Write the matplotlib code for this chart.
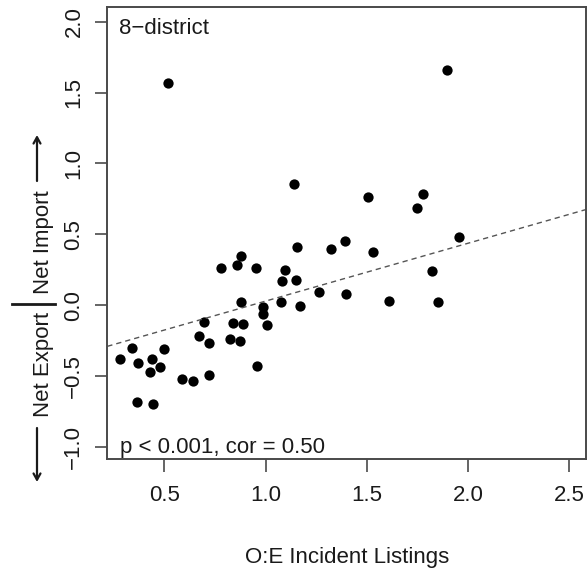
import matplotlib
matplotlib.use("Agg")
import matplotlib.pyplot as plt

# ---- data ----
oe_listings = [0.281, 0.339, 0.372, 0.441, 0.429, 0.480, 0.499, 0.367, 0.444, 0.587,
               0.643, 0.721, 0.673, 0.719, 0.698, 0.778, 0.861, 0.880, 0.954, 0.880,
               0.841, 0.890, 0.826, 0.872, 0.959, 0.989, 0.987, 1.006, 1.075, 1.080,
               1.096, 1.149, 1.154, 1.170, 1.262, 1.322, 1.392, 1.397, 0.517, 1.140,
               1.894, 1.507, 1.778, 1.746, 1.955, 1.529, 1.610, 1.822, 1.853]
net_flow = [-0.380, -0.303, -0.404, -0.380, -0.469, -0.434, -0.310, -0.681, -0.697, -0.519,
            -0.533, -0.491, -0.213, -0.265, -0.119, 0.266, 0.285, 0.348, 0.261, 0.026,
            -0.124, -0.133, -0.239, -0.251, -0.425, -0.014, -0.061, -0.141, 0.024, 0.172,
            0.250, 0.179, 0.412, -0.004, 0.094, 0.398, 0.457, 0.083, 1.566, 0.858,
            1.659, 0.766, 0.785, 0.687, 0.484, 0.379, 0.031, 0.243, 0.024]
fit_intercept = -0.378
fit_slope = 0.408
x_ticks = [0.5, 1.0, 1.5, 2.0, 2.5]
y_ticks = [-1.0, -0.5, 0.0, 0.5, 1.0, 1.5, 2.0]
panel_label = "8\u2212district"
stat_label = "p < 0.001, cor = 0.50"
x_label = "O:E Incident Listings"

# ---- figure ----
W, H = 587, 576
plt.rcParams['font.family'] = ['Liberation Sans', 'DejaVu Sans']
fig = plt.figure(figsize=(W / 100, H / 100), dpi=100)

def fx(px):
    return px / W

def fy(py):
    return 1 - py / H

left, right, top, bottom = 107.3, 586.0, 7.3, 459.0
ax = fig.add_axes([fx(left), fy(bottom), fx(right) - fx(left), fy(top) - fy(bottom)])

spine_col = '#4a4a4a'
text_col = '#1a1a1a'
fs = 16

ax.plot(oe_listings, net_flow, 'o', color='black', markersize=7.4, markeredgewidth=0)
ax.axline((0, fit_intercept), slope=fit_slope, color='#555555', lw=1.0,
          dashes=(3.8, 2.9))

ax.set_xlim(0.2185, 2.582)
ax.set_ylim(-1.083, 2.101)
ax.set_xticks(x_ticks)
ax.set_yticks(y_ticks)
ax.set_xticklabels([f"{v:.1f}" for v in x_ticks])
ax.set_yticklabels([f"{v:.1f}".replace('-', '\u2212') for v in y_ticks])

for s in ax.spines.values():
    s.set_color(spine_col)
    s.set_linewidth(1.4)

ax.tick_params(axis='both', direction='out', length=9, width=1.2, color=spine_col,
               labelsize=fs, labelcolor=text_col)
ax.tick_params(axis='x', pad=10)
ax.tick_params(axis='y', pad=7.5)
for lab in ax.get_yticklabels():
    lab.set_rotation(90)
    lab.set_va('center')

# texts inside panel
fig.text(fx(119), fy(34), panel_label, fontsize=fs, color=text_col, ha='left', va='baseline')
fig.text(fx(120), fy(453), stat_label, fontsize=fs, color=text_col, ha='left', va='baseline')

# x label
fig.text(fx((left + right) / 2), fy(563), x_label, fontsize=fs, color=text_col,
         ha='center', va='baseline')

# y label pieces
fig.text(fx(44), fy(242), "Net Import", fontsize=fs, color=text_col, rotation=90,
         ha='center', va='center')
fig.text(fx(44), fy(364), "Net Export", fontsize=fs, color=text_col, rotation=90,
         ha='center', va='center')
fig.add_artist(plt.Line2D([fx(12), fx(55)], [fy(304), fy(304)], color=text_col, lw=2.0,
                          transform=fig.transFigure))
arrow_kw = dict(arrowstyle='->,head_length=0.45,head_width=0.25', color=text_col, lw=1.6,
                shrinkA=0, shrinkB=0)
ax.annotate('', xy=(fx(37), fy(135)), xytext=(fx(37), fy(181)), xycoords='figure fraction',
            textcoords='figure fraction', arrowprops=arrow_kw)
ax.annotate('', xy=(fx(37), fy(482)), xytext=(fx(37), fy(428)), xycoords='figure fraction',
            textcoords='figure fraction', arrowprops=arrow_kw)

fig.savefig('out.png', dpi=100, facecolor='white')
